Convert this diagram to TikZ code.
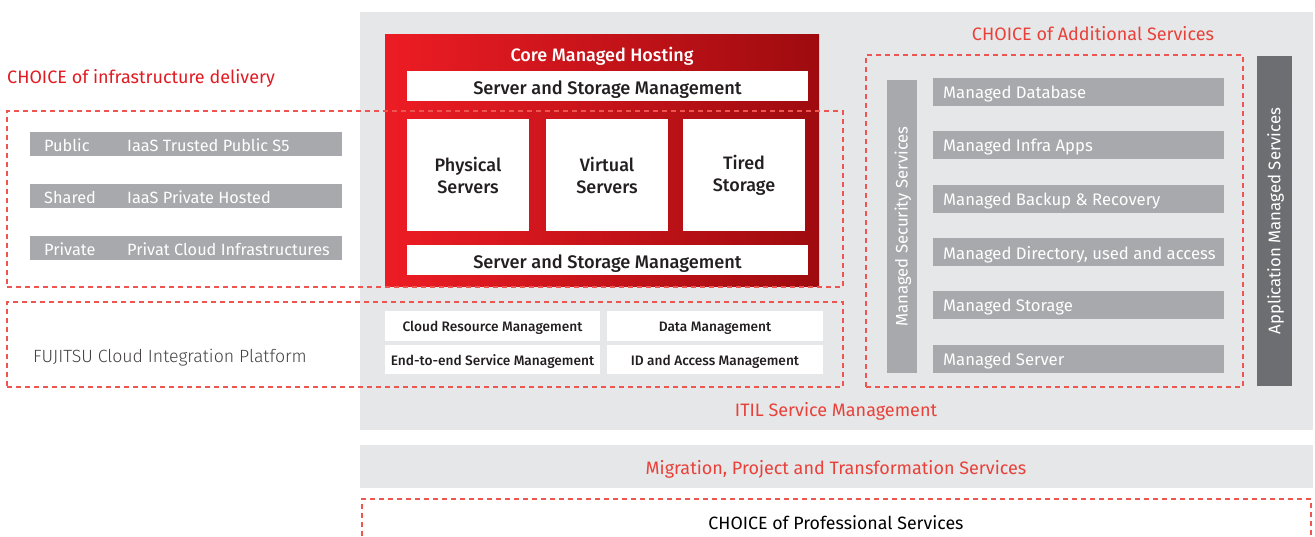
\documentclass[tikz,border=0pt]{standalone}
\usepackage{fontspec}
\setmainfont{Fira Sans}
\newfontfamily\medf{Fira Sans Medium}
\newfontfamily\lightf{Fira Sans Light}
\definecolor{bggray}{HTML}{E6E7E8}
\definecolor{bargray}{HTML}{A7A9AC}
\definecolor{darkgray}{HTML}{6D6E71}
\definecolor{redtxt}{HTML}{E8413A}
\definecolor{dashred}{HTML}{EE5550}
\definecolor{redL}{HTML}{ED1C24}
\definecolor{redR}{HTML}{9E0B0F}
\definecolor{txtdark}{HTML}{231F20}
\tikzset{
  bx/.style={inner sep=0pt, outer sep=0pt, anchor=north west, draw=none},
  dbox/.style={bx, draw=dashred, line width=1.1pt, dash pattern=on 5pt off 4pt},
  wbox/.style={bx, fill=white},
  gbar/.style={bx, fill=bargray, minimum height=24pt, minimum width=312pt},
  mbar/.style={bx, fill=bargray, minimum height=28pt, minimum width=291pt},
  bartxt/.style={inner sep=0pt, anchor=west, text=white, font=\fontsize{16.3pt}{19pt}\selectfont},
  mtxt/.style={inner sep=0pt, anchor=west, text=white, font=\fontsize{16.7pt}{19pt}\selectfont},
  redlabel/.style={inner sep=0pt, text=redtxt, font=\fontsize{18pt}{21pt}\selectfont},
  wtxt/.style={inner sep=0pt, text=txtdark, font=\medf\fontsize{18.2pt}{22pt}\selectfont},
  stxt/.style={inner sep=0pt, text=txtdark, font=\medf\fontsize{13.7pt}{16pt}\selectfont},
  cbox/.style={wbox, minimum width=122pt, minimum height=112pt, align=center, font=\medf\fontsize{18pt}{22pt}\selectfont, text=txtdark},
}
\begin{document}
\begin{tikzpicture}[x=1pt,y=-1pt]
\useasboundingbox (0,0) rectangle (1315,537);
% backgrounds
\node[bx, fill=bggray, minimum width=953pt, minimum height=418pt] (bg) at (360,12) {};
\node[bx, fill=bggray, minimum width=953pt, minimum height=43pt] (mig) at (360,445) {};
\node[redlabel] (migT) at (836,469) {Migration, Project and Transformation Services};
\draw[draw=dashred, line width=1.1pt, dash pattern=on 5pt off 4pt] (362,545) -- (362,499) -- (1311,499) -- (1311,545);
\node[inner sep=0pt, text=black, font=\fontsize{17.8pt}{20pt}\selectfont] (prof) at (836,523) {CHOICE of Professional Services};

% core managed hosting
\node[bx, minimum width=434pt, minimum height=252pt, left color=redL, right color=redR] (core) at (385,35) {};
\node[inner sep=0pt, text=white, font=\medf\fontsize{18pt}{20pt}\selectfont] (coreT) at (602,56) {Core Managed Hosting};
\node[wbox, minimum width=401pt, minimum height=30pt] (ssm1) at (407,71) {};
\node[wtxt] at ([yshift=-3.5pt]ssm1.center) {Server and Storage Management};
\node[cbox] (phys) at (407,119) {Physical\\Servers};
\node[cbox] (virt) at (546,119) {Virtual\\Servers};
\node[cbox] (tier) at (683,119) {Tired\\Storage};
\node[wbox, minimum width=401pt, minimum height=30pt] (ssm2) at (407,245) {};
\node[wtxt] at ([yshift=-3.5pt]ssm2.center) {Server and Storage Management};

% integration platform boxes
\node[wbox, minimum width=215pt, minimum height=30pt] (crm) at (385,311) {};
\node[stxt] at ([yshift=-2pt]crm.center) {Cloud Resource Management};
\node[wbox, minimum width=216pt, minimum height=30pt] (dm) at (607,311) {};
\node[stxt] at ([yshift=-2pt]dm.center) {Data Management};
\node[wbox, minimum width=215pt, minimum height=29pt] (e2e) at (385,345) {};
\node[stxt] at ([yshift=-2pt]e2e.center) {End-to-end Service Management};
\node[wbox, minimum width=216pt, minimum height=29pt] (idm) at (607,345) {};
\node[stxt] at ([yshift=-2pt]idm.center) {ID and Access Management};

% left side
\node[redlabel, anchor=west, text=redL!95!black] (infT) at (7,78) {CHOICE of infrastructure delivery};
\node[gbar] (pub) at (30,132) {};
\node[bartxt] at ([xshift=14pt,yshift=-1pt]pub.west) {Public};
\node[bartxt] at ([xshift=97pt,yshift=-1pt]pub.west) {IaaS Trusted Public S5};
\node[gbar] (sha) at (30,184) {};
\node[bartxt] at ([xshift=14pt,yshift=-1pt]sha.west) {Shared};
\node[bartxt] at ([xshift=97pt,yshift=-1pt]sha.west) {IaaS Private Hosted};
\node[gbar] (pri) at (30,236) {};
\node[bartxt] at ([xshift=14pt,yshift=-1pt]pri.west) {Private};
\node[bartxt] at ([xshift=97pt,yshift=-1pt]pri.west) {Privat Cloud Infrastructures};
\node[inner sep=0pt, anchor=west, text=txtdark!85, font=\lightf\fontsize{17.7pt}{20pt}\selectfont] (fcip) at (33,358) {FUJITSU Cloud Integration Platform};

% dashed boxes left
\node[dbox, minimum width=836pt, minimum height=176pt] (infbox) at (7,111) {};
\node[dbox, minimum width=836pt, minimum height=85pt] (platbox) at (7,302) {};

\node[redlabel] (itil) at (836,411) {ITIL Service Management};

% right side
\node[redlabel] (addT) at (1093,34) {CHOICE of Additional Services};
\node[dbox, minimum width=377pt, minimum height=332pt] (addbox) at (866,55) {};
\node[bx, fill=bargray, minimum width=30pt, minimum height=293pt] (sec) at (887,80) {};
\node[inner sep=0pt, rotate=90, text=white, font=\fontsize{16.7pt}{19pt}\selectfont] at ([xshift=1pt]sec.center) {Managed Security Services};
\node[mbar] (mdb) at (933,78) {};
\node[mtxt] at ([xshift=10pt,yshift=-2.5pt]mdb.west) {Managed Database};
\node[mbar] (mia) at (933,131) {};
\node[mtxt] at ([xshift=10pt,yshift=-2.5pt]mia.west) {Managed Infra Apps};
\node[mbar] (mbr) at (933,185) {};
\node[mtxt] at ([xshift=10pt,yshift=-2.5pt]mbr.west) {Managed Backup \& Recovery};
\node[mbar] (mdir) at (933,238) {};
\node[mtxt] at ([xshift=10pt,yshift=-2.5pt]mdir.west) {Managed Directory, used and access};
\node[mbar] (mst) at (933,291) {};
\node[mtxt] at ([xshift=10pt,yshift=-2.5pt]mst.west) {Managed Storage};
\node[mbar] (msv) at (933,345) {};
\node[mtxt] at ([xshift=10pt,yshift=-2.5pt]msv.west) {Managed Server};
\node[bx, fill=darkgray, minimum width=35pt, minimum height=330pt] (app) at (1257,56) {};
\node[inner sep=0pt, rotate=90, text=white, font=\fontsize{16.8pt}{19pt}\selectfont] at ([xshift=1pt]app.center) {Application Managed Services};
\end{tikzpicture}
\end{document}
